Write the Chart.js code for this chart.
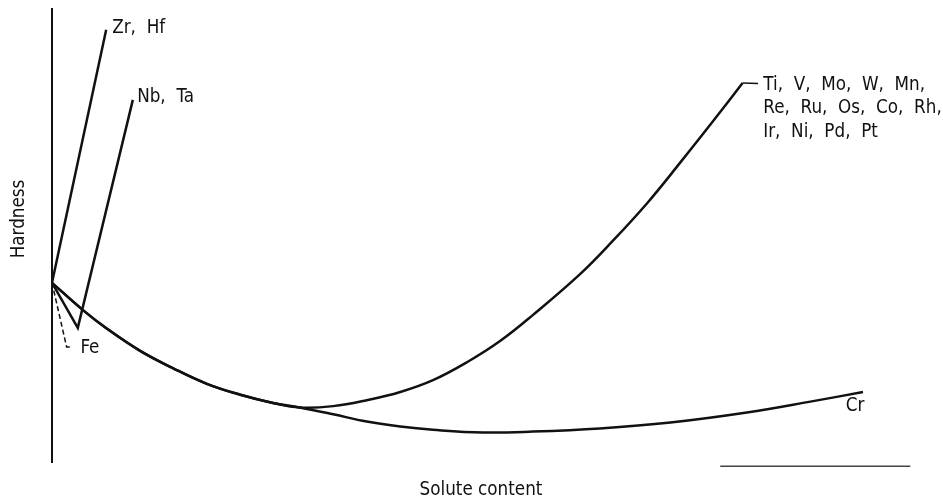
<!DOCTYPE html>
<html>
<head>
<meta charset="utf-8">
<script src="https://cdn.jsdelivr.net/npm/chart.js@4.4.0/dist/chart.umd.min.js"></script>
<style>
body { margin: 0; background: #fff; }
#wrap { width: 943px; height: 502px; }
</style>
</head>
<body>
<div id="wrap"><canvas id="grafico"></canvas></div>
<script>
// solute content (arbitrary units) vs hardness (arbitrary units)
const baseX = [0, 3.6, 6.4, 10.2, 14.1, 18.0, 21.9, 25.7, 28.8]
const baseY = [39.6, 33.6, 29.5, 24.7, 20.8, 17.4, 15.0, 13.2, 12.2]
const crX = [32.7, 36.6, 40.5, 44.3, 50.1, 55.9, 63.7, 71.9, 80.8, 88.5, 94.3]
const crY = [10.7, 9.1, 8.0, 7.3, 6.7, 6.9, 7.6, 8.9, 11.1, 13.6, 15.6]
const tiX = [32.7, 36.6, 40.5, 44.3, 48.3, 52.1, 55.9, 61.4, 65.2, 69.2, 73.0, 76.9, 80.3]
const tiY = [12.5, 13.8, 15.6, 18.2, 22.2, 26.8, 32.5, 41.5, 48.8, 57.1, 65.9, 75.2, 83.5]
const zrX = [0, 6.3]
const zrY = [39.6, 95.2]
const nbX = [0, 3.0, 9.4]
const nbY = [39.6, 29.7, 79.8]
const feX = [0, 1.7, 2.2]
const feY = [39.6, 25.5, 25.5]
const tiLeadX = [80.3, 82.1]
const tiLeadY = [83.5, 83.4]
const baseLineX = [77.7, 99.8]
const baseLineY = [-0.7, -0.7]

const labels = [
  { text: 'Zr,  Hf', x: 7.0, y: 95.6 },
  { text: 'Nb,  Ta', x: 9.9, y: 80.4 },
  { text: 'Fe', x: 3.3, y: 25.3 },
  { text: 'Ti,  V,  Mo,  W,  Mn,', x: 82.7, y: 83.1 },
  { text: 'Re,  Ru,  Os,  Co,  Rh,', x: 82.7, y: 78.0 },
  { text: 'Ir,  Ni,  Pd,  Pt', x: 82.7, y: 72.7 },
  { text: 'Cr', x: 92.3, y: 12.5 }
]

const zip = (xs, ys) => xs.map((x, i) => ({ x: x, y: ys[i] }))

const FONT = '"DejaVu Sans", sans-serif'
const SQUEEZE = 0.84

function narrowText(ctx, text, x, y, angle) {
  ctx.save()
  ctx.translate(x, y)
  if (angle) ctx.rotate(angle)
  ctx.scale(SQUEEZE, 1)
  ctx.fillText(text, 0, 0)
  ctx.restore()
}

const textPlugin = {
  id: 'texts',
  afterDatasetsDraw(chart) {
    const ctx = chart.ctx
    const sx = chart.scales.x
    const sy = chart.scales.y
    ctx.save()
    ctx.fillStyle = '#111'
    ctx.font = '20px ' + FONT
    ctx.textBaseline = 'middle'
    ctx.textAlign = 'left'
    labels.forEach((l) => {
      narrowText(ctx, l.text, sx.getPixelForValue(l.x), sy.getPixelForValue(l.y))
    })
    // axis titles
    ctx.textAlign = 'center'
    narrowText(ctx, 'Solute content', 481, 490)
    narrowText(ctx, 'Hardness', 19, 219, -Math.PI / 2)
    ctx.restore()
  }
}

const line = (data, extra) => Object.assign({
  data: data,
  showLine: true,
  pointRadius: 0,
  borderColor: '#111',
  borderWidth: 2.5,
  tension: 0,
  fill: false
}, extra || {})

const ctx = document.getElementById('grafico')

new Chart(ctx, {
  type: 'scatter',
  data: {
    datasets: [
      line([{ x: 0, y: 0 }, { x: 0, y: 100 }], { borderWidth: 2, clip: false }),
      line(zip(baseX.concat(crX), baseY.concat(crY)), { tension: 0.4 }),
      line(zip(baseX.concat(tiX), baseY.concat(tiY)), { tension: 0.4 }),
      line(zip(zrX, zrY)),
      line(zip(nbX, nbY)),
      line(zip(feX, feY), { borderWidth: 1.5, borderDash: [5, 3] }),
      line(zip(tiLeadX, tiLeadY), { borderWidth: 1.5 }),
      line(zip(baseLineX, baseLineY), { borderWidth: 1.5, borderColor: '#444', clip: false })
    ]
  },
  options: {
    responsive: true,
    maintainAspectRatio: false,
    animation: false,
    layout: { padding: { left: 52, right: 31, top: 8, bottom: 39 } },
    plugins: { legend: { display: false }, tooltip: { enabled: false } },
    scales: {
      x: { type: 'linear', min: 0, max: 100, display: false },
      y: { type: 'linear', min: 0, max: 100, display: false }
    }
  },
  plugins: [textPlugin]
})
</script>
</body>
</html>
